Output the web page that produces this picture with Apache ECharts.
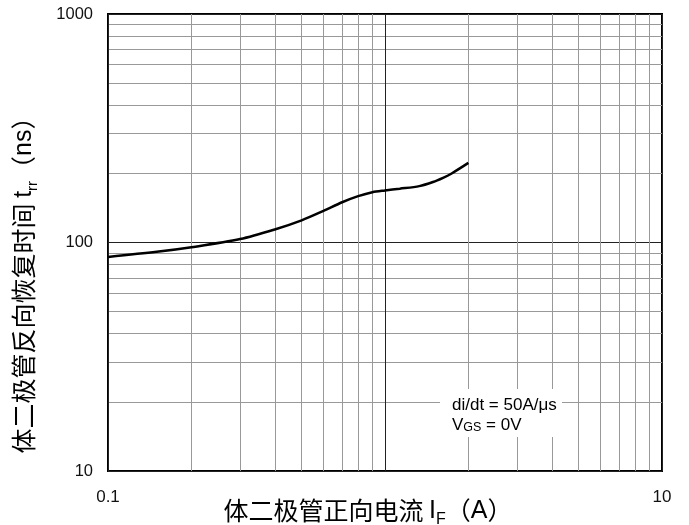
<!DOCTYPE html>
<html><head><meta charset="utf-8">
<script src="https://cdn.jsdelivr.net/npm/echarts@6/dist/echarts.min.js"></script>
<style>html,body{margin:0;padding:0;background:#fff}#c{width:689px;height:525px}</style>
</head><body><div id="c"></div>
<script>
// Forward current I_F (A)
const currentA = [0.1, 0.15, 0.2, 0.3, 0.4, 0.5, 0.6, 0.7, 0.8, 0.9, 1.0, 1.13, 1.33, 1.49, 1.62, 1.74, 2.0];
// Reverse recovery time t_rr (ns)
const trrNs = [86.5, 91, 95.3, 103.5, 114, 125, 137.5, 150, 159.5, 166, 169, 172, 176.5, 184, 192, 200.5, 223];
const xTickLabels = ['0.1', '10'];
const yTickLabels = ['10', '100', '1000'];

const latin = '"Liberation Sans", Arial, sans-serif';
const cjk = '"Noto Sans CJK SC", sans-serif';

const chart = echarts.init(document.getElementById('c'));
chart.setOption({
  animation: false,
  backgroundColor: '#fff',
  grid: { left: 108, right: 27, top: 14, bottom: 54, show: true, borderColor: '#000', borderWidth: 2, backgroundColor: 'transparent' },
  xAxis: {
    type: 'log', logBase: 10, min: 0.1, max: 10,
    axisLine: { show: false }, axisTick: { show: false },
    axisLabel: {
      margin: 18, color: '#111', fontFamily: latin, fontSize: 17,
      formatter: v => { const s = String(+v.toPrecision(3)); return xTickLabels.indexOf(s) >= 0 ? s : ''; }
    },
    splitLine: { show: true, lineStyle: { color: '#222', width: 1 } },
    minorTick: { show: false, splitNumber: 9 },
    minorSplitLine: { show: true, lineStyle: { color: '#999', width: 1 } }
  },
  yAxis: {
    type: 'log', logBase: 10, min: 10, max: 1000,
    axisLine: { show: false }, axisTick: { show: false },
    axisLabel: {
      margin: 15, color: '#111', fontFamily: latin, fontSize: 16.5,
      formatter: v => { const s = String(+v.toPrecision(3)); return yTickLabels.indexOf(s) >= 0 ? s : ''; }
    },
    splitLine: { show: true, lineStyle: { color: '#222', width: 1 } },
    minorTick: { show: false, splitNumber: 9 },
    minorSplitLine: { show: true, lineStyle: { color: '#999', width: 1 } }
  },
  series: [{
    type: 'line',
    data: currentA.map((x, i) => [x, trrNs[i]]),
    smooth: 0.3,
    showSymbol: false,
    lineStyle: { color: '#000', width: 2.5 },
    z: 5
  }],
  graphic: [
    {
      type: 'rect', z: 10,
      shape: { x: 440, y: 389, width: 122, height: 48 },
      style: { fill: '#fff' }
    },
    {
      type: 'text', z: 11, x: 452, y: 394,
      style: {
        text: '{a|di/dt = 50A/μs}\n{a|V}{s|GS}{a| = 0V}',
        rich: {
          a: { fontFamily: latin, fontSize: 17, color: '#111', lineHeight: 20, verticalAlign: 'bottom' },
          s: { fontFamily: latin, fontSize: 12.5, color: '#111', lineHeight: 20, verticalAlign: 'bottom' }
        }
      }
    },
    {
      type: 'text', z: 11, x: 368, y: 509,
      style: {
        text: '{c|体二极管正向电流 }{i|I}{b|F}{c|（}{i|A}{c|）}',
        align: 'center', verticalAlign: 'middle',
        rich: {
          c: { fontFamily: cjk, fontSize: 25, color: '#3a3a3a', lineHeight: 29, verticalAlign: 'bottom' },
          i: { fontFamily: latin, fontSize: 25, color: '#111', lineHeight: 29, verticalAlign: 'bottom' },
          b: { fontFamily: latin, fontSize: 16, color: '#111', lineHeight: 25, verticalAlign: 'bottom', padding: [0, 0, -4, 0] }
        }
      }
    },
    {
      type: 'text', z: 11, x: 22, y: 279, rotation: Math.PI / 2,
      style: {
        text: '{c|体二极管反向恢复时间 }{i|t}{b|rr}{c|（}{i|ns}{c|）}',
        align: 'center', verticalAlign: 'middle',
        rich: {
          c: { fontFamily: cjk, fontSize: 25, color: '#3a3a3a', lineHeight: 29, verticalAlign: 'bottom' },
          i: { fontFamily: latin, fontSize: 25, color: '#111', lineHeight: 29, verticalAlign: 'bottom' },
          b: { fontFamily: latin, fontSize: 15, color: '#111', lineHeight: 25, verticalAlign: 'bottom', padding: [0, 0, -4, 0] }
        }
      }
    }
  ]
});
</script></body></html>
